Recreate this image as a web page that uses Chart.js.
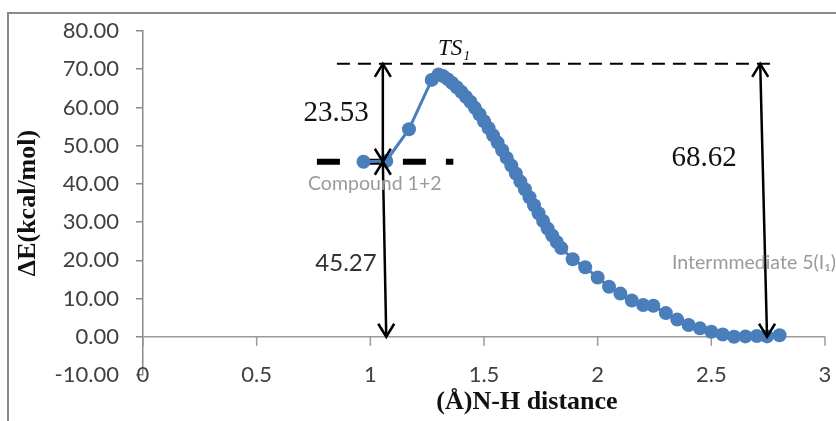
<!DOCTYPE html>
<html>
  <head>
    <meta charset="UTF-8" />
    <title>N-H distance energy profile</title>
    <script src="https://cdn.jsdelivr.net/npm/chart.js"></script>
    <style type="text/css">
      body{ margin:0; background:#ffffff; }
      #wrap{ width:836px; height:421px; position:relative; }
    </style>
  </head>
  <body>
    <div id="wrap"><canvas id="profile"></canvas></div>

    <script>
      // N-H distance (A) and energy (kcal/mol)
      var distance = [0.97, 1.07, 1.17, 1.27, 1.30,
        1.32, 1.34, 1.36, 1.38, 1.40, 1.42, 1.44, 1.46, 1.48, 1.50,
        1.52, 1.54, 1.56, 1.58, 1.60, 1.62, 1.64, 1.66, 1.68, 1.70,
        1.72, 1.74, 1.76, 1.78, 1.80, 1.82, 1.84,
        1.89, 1.945, 2.00, 2.05, 2.10, 2.15, 2.20, 2.245, 2.30, 2.35,
        2.40, 2.45, 2.50, 2.55, 2.60, 2.65, 2.70, 2.745, 2.80];
      var energy = [45.8, 46.0, 54.3, 67.2, 68.6,
        68.2, 67.4, 66.4, 65.3, 64.1, 62.8, 61.5, 59.9, 58.2, 56.4,
        54.6, 52.7, 50.8, 48.8, 46.8, 44.8, 42.7, 40.6, 38.6, 36.5,
        34.4, 32.3, 30.3, 28.3, 26.5, 24.8, 23.2,
        20.3, 18.2, 15.5, 13.1, 11.3, 9.5, 8.3, 8.1, 6.2, 4.5,
        3.1, 2.2, 1.3, 0.6, 0.0, 0.1, 0.2, 0.1, 0.4];

      var xTickValues = [0, 0.5, 1, 1.5, 2, 2.5, 3];

      // reference levels and labels
      var tsLevel = 71.4;
      var compoundLevel = 45.8;
      var barrierLabel = "23.53";
      var compoundLabel = "45.27";
      var reactionLabel = "68.62";

      var points = [];
      for (var i = 0; i < distance.length; i++) {
        points.push({ x: distance[i], y: energy[i] });
      }

      function arrowHead(ctx, x, y, dir) {
        // dir = -1 points up, 1 points down
        ctx.beginPath();
        ctx.moveTo(x - 8, y - dir * 13);
        ctx.lineTo(x, y);
        ctx.lineTo(x + 8, y - dir * 13);
        ctx.stroke();
      }

      function doubleArrow(ctx, xs, ys, top, bottom) {
        var xt = xs.getPixelForValue(top[0]), yt = ys.getPixelForValue(top[1]);
        var xb = xs.getPixelForValue(bottom[0]), yb = ys.getPixelForValue(bottom[1]);
        ctx.beginPath();
        ctx.moveTo(xt, yt);
        ctx.lineTo(xb, yb);
        ctx.stroke();
        arrowHead(ctx, xt, yt, -1);
        arrowHead(ctx, xb, yb, 1);
      }

      var decorations = {
        id: 'decorations',
        beforeDatasetsDraw: function(chart) {
          var ctx = chart.ctx, xs = chart.scales.x, ys = chart.scales.y;
          ctx.save();
          // outer frame
          ctx.strokeStyle = '#8a8a8a';
          ctx.lineWidth = 2;
          ctx.beginPath();
          ctx.moveTo(8, 421);
          ctx.lineTo(8, 13);
          ctx.lineTo(836, 13);
          ctx.stroke();

          // x tick marks on the zero line, labels level with -10
          var y0 = ys.getPixelForValue(0);
          var yLab = ys.getPixelForValue(-10);
          ctx.strokeStyle = '#9a9a9a';
          ctx.lineWidth = 1.5;
          ctx.fillStyle = '#404040';
          ctx.font = '22px Lato';
          ctx.textAlign = 'center';
          ctx.textBaseline = 'middle';
          xTickValues.forEach(function(v) {
            var px = xs.getPixelForValue(v);
            ctx.beginPath();
            ctx.moveTo(px, y0);
            ctx.lineTo(px, y0 + 9);
            ctx.stroke();
            ctx.fillText(String(v), px, yLab);
          });

          // TS level
          ctx.strokeStyle = '#000';
          ctx.lineWidth = 2;
          ctx.setLineDash([13, 8]);
          ctx.beginPath();
          ctx.moveTo(xs.getPixelForValue(0.853), ys.getPixelForValue(tsLevel));
          ctx.lineTo(xs.getPixelForValue(2.79), ys.getPixelForValue(tsLevel));
          ctx.stroke();

          // compound level
          ctx.lineWidth = 6;
          ctx.setLineDash([23, 20]);
          ctx.beginPath();
          ctx.moveTo(xs.getPixelForValue(0.765), ys.getPixelForValue(compoundLevel));
          ctx.lineTo(xs.getPixelForValue(1.365), ys.getPixelForValue(compoundLevel));
          ctx.stroke();
          ctx.restore();
        },
        afterDatasetsDraw: function(chart) {
          var ctx = chart.ctx, xs = chart.scales.x, ys = chart.scales.y;
          ctx.save();
          ctx.strokeStyle = '#000';
          ctx.lineWidth = 2.5;
          doubleArrow(ctx, xs, ys, [1.055, tsLevel], [1.055, compoundLevel]);
          doubleArrow(ctx, xs, ys, [1.055, compoundLevel], [1.07, 0]);
          doubleArrow(ctx, xs, ys, [2.715, tsLevel], [2.745, 0]);

          ctx.textBaseline = 'middle';
          ctx.fillStyle = '#111';
          ctx.font = '29px "Liberation Serif"';
          ctx.textAlign = 'center';
          ctx.fillText(barrierLabel, xs.getPixelForValue(0.849), ys.getPixelForValue(58.4));
          ctx.fillText(reactionLabel, xs.getPixelForValue(2.468), ys.getPixelForValue(46.6));

          ctx.fillStyle = '#333';
          ctx.font = '24px Lato';
          ctx.fillText(compoundLabel, xs.getPixelForValue(0.893), ys.getPixelForValue(19.3));

          ctx.fillStyle = '#111';
          ctx.textAlign = 'left';
          ctx.font = 'italic 23px "Liberation Serif"';
          ctx.fillText('TS₁', xs.getPixelForValue(1.298), ys.getPixelForValue(75.3));

          ctx.fillStyle = '#9a9a9a';
          ctx.font = '19.5px Lato';
          ctx.fillText('Compound 1+2', xs.getPixelForValue(0.726), ys.getPixelForValue(40.1));
          ctx.fillText('Intermmediate 5(I₁)', xs.getPixelForValue(2.327), ys.getPixelForValue(19.3));

          // axis titles
          ctx.fillStyle = '#111';
          ctx.font = 'bold 26px "Liberation Serif"';
          ctx.textAlign = 'center';
          ctx.fillText('(Å)N-H distance', 527, 402);
          ctx.translate(28, 203);
          ctx.rotate(-Math.PI / 2);
          ctx.fillText('ΔE(kcal/mol)', 0, 0);
          ctx.restore();
        }
      };

      var ctx = document.getElementById('profile');

      new Chart(ctx, {
        type: 'scatter',
        data: {
          datasets: [{
            label: 'Energy',
            data: points,
            showLine: true,
            borderColor: '#4a7ebb',
            borderWidth: 3,
            backgroundColor: '#4a7ebb',
            pointRadius: 7,
            pointBorderWidth: 0,
            pointBackgroundColor: '#4a7ebb',
            tension: 0
          }]
        },
        options: {
          responsive: true,
          maintainAspectRatio: false,
          animation: false,
          layout: { padding: { left: 0, right: 11, top: 31, bottom: 0 } },
          plugins: {
            legend: { display: false },
            tooltip: { enabled: false }
          },
          scales: {
            x: {
              type: 'linear',
              position: 'bottom',
              min: 0,
              max: 3,
              afterFit: function(scale) { scale.height = 46; },
              grid: { display: false },
              border: { display: false },
              ticks: { display: false, stepSize: 0.5 }
            },
            y: {
              min: -10,
              max: 80,
              afterFit: function(scale) { scale.width = 143; },
              border: { display: true, color: '#8a8a8a', width: 1.5 },
              grid: {
                drawTicks: true,
                tickLength: 7,
                tickColor: '#8a8a8a',
                lineWidth: 1.5,
                color: function(c) { return c.tick && c.tick.value === 0 ? '#9a9a9a' : 'rgba(0,0,0,0)'; }
              },
              ticks: {
                stepSize: 10,
                padding: 17,
                color: '#404040',
                font: { family: 'Lato', size: 22 },
                callback: function(v) { return v.toFixed(2); }
              }
            }
          }
        },
        plugins: [decorations]
      });
    </script>
  </body>
</html>
